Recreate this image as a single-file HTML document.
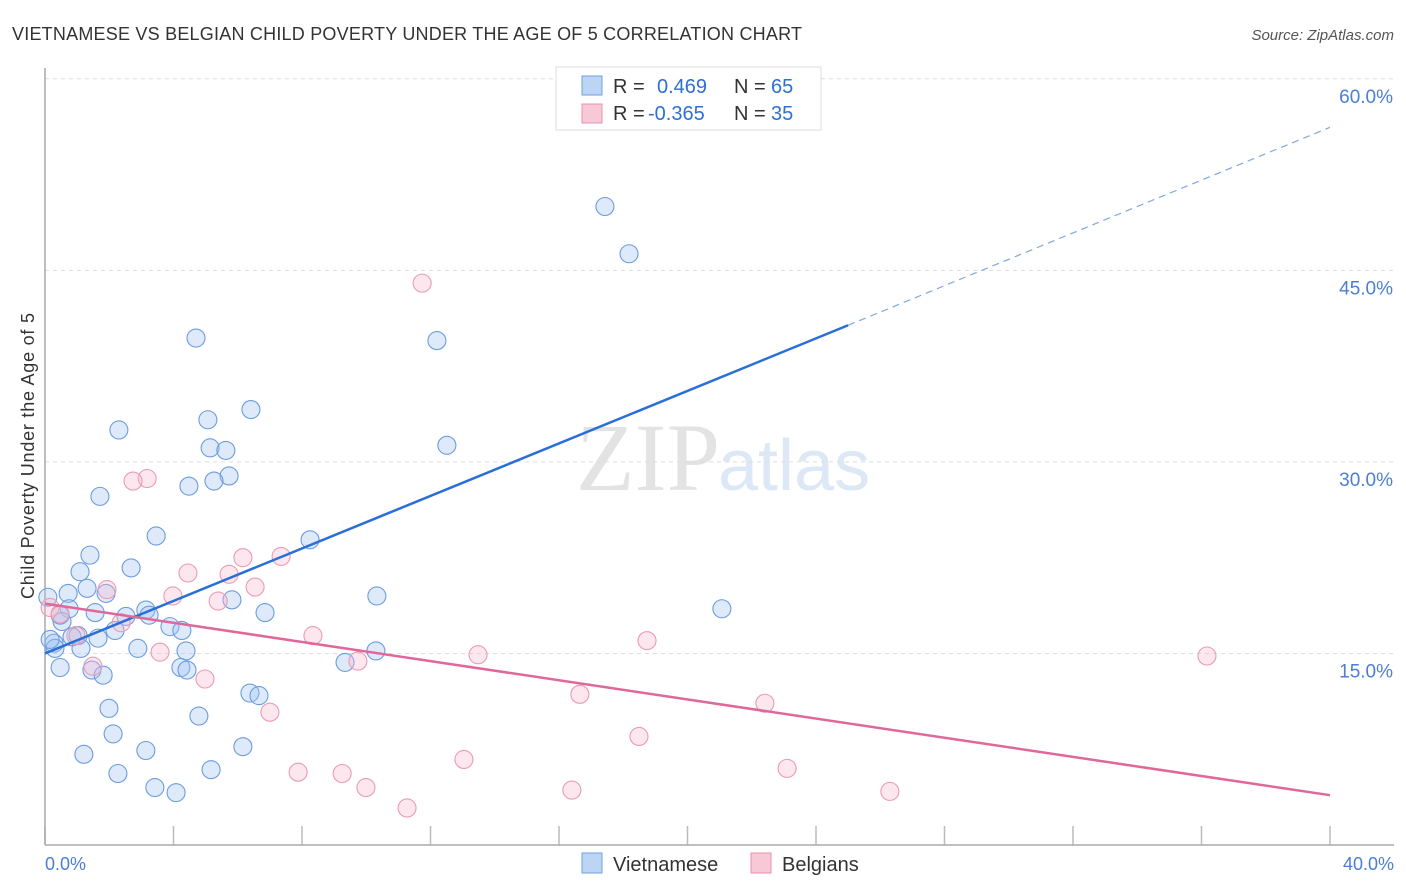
<!DOCTYPE html>
<html><head><meta charset="utf-8"><style>
body{margin:0;background:#fff;font-family:"Liberation Sans",sans-serif;}
svg{display:block}
</style></head><body>
<svg width="1406" height="892" viewBox="0 0 1406 892" id="c">
<text x="12" y="40" font-size="18" fill="#333" textLength="790">VIETNAMESE VS BELGIAN CHILD POVERTY UNDER THE AGE OF 5 CORRELATION CHART</text>
<text x="1394" y="40" font-size="15" fill="#555" font-style="italic" text-anchor="end">Source: ZipAtlas.com</text>
<text x="720" y="490" font-size="96" fill="#e3e3e3" text-anchor="end" font-family="Liberation Serif">ZIP</text>
<text x="718" y="490" font-size="72" fill="#dce8f6">atlas</text>
<g id="grid"></g>
<line x1="45" y1="68" x2="45" y2="845" stroke="#aaa" stroke-width="1.5"/>
<line x1="45" y1="845" x2="1394" y2="845" stroke="#aaa" stroke-width="1.5"/>
<text transform="translate(34,456) rotate(-90)" font-size="18" fill="#333" text-anchor="middle" textLength="286">Child Poverty Under the Age of 5</text>
<text x="45" y="870" font-size="18" fill="#4a7fd4">0.0%</text>
<text x="1394" y="870" font-size="18" fill="#4a7fd4" text-anchor="end">40.0%</text>
<g id="pts"></g>
<g id="lines"></g>
<g>
<rect x="556" y="67" width="265" height="63" fill="#fff" stroke="#ddd"/>
<rect x="582" y="76" width="20" height="19" fill="#bcd5f5" stroke="#6fa0e0"/>
<rect x="582" y="104" width="20" height="19" fill="#f8c8d6" stroke="#e890aa"/>
<text y="93" font-size="20" fill="#333"><tspan x="613">R =</tspan><tspan x="657" fill="#2d6fd6">0.469</tspan><tspan x="734">N =</tspan><tspan x="771" fill="#2d6fd6">65</tspan></text>
<text y="120" font-size="20" fill="#333"><tspan x="613">R =</tspan><tspan x="648" fill="#2d6fd6">-0.365</tspan><tspan x="734">N =</tspan><tspan x="771" fill="#2d6fd6">35</tspan></text>
</g>
<g>
<rect x="582" y="853" width="20" height="20" fill="#bcd5f5" stroke="#6fa0e0"/>
<text x="613" y="871" font-size="20" fill="#333">Vietnamese</text>
<rect x="751" y="853" width="20" height="20" fill="#f8c8d6" stroke="#e890aa"/>
<text x="782" y="871" font-size="20" fill="#333">Belgians</text>
</g>
</svg>
<script>
const yTicks=[15,30,45,60];
const yTickLabels=["15.0%","30.0%","45.0%","60.0%"];
const xTicks=[0,4,8,12,16,20,24,28,32,36,40];
const blueX=[17.43,18.18,4.70,12.20,6.41,2.30,5.07,12.51,5.14,5.63,5.73,5.26,4.48,1.71,3.46,8.25,1.40,2.68,1.09,0.72,1.31,0.09,1.90,10.33,5.82,0.75,1.56,6.85,21.07,3.14,3.24,2.52,0.53,0.47,3.89,4.26,2.18,1.03,1.65,0.84,0.28,0.31,1.12,2.89,4.39,10.30,9.34,4.23,4.42,1.46,0.47,1.81,6.38,6.66,1.99,4.79,2.12,6.16,1.21,3.14,5.17,2.27,3.42,4.08,0.16];
const blueY=[50.0,46.3,39.7,39.5,34.1,32.5,33.3,31.3,31.1,30.9,28.9,28.5,28.1,27.3,24.2,23.9,22.7,21.7,21.4,19.7,20.1,19.4,19.7,19.5,19.2,18.5,18.2,18.2,18.5,18.4,18.0,17.9,17.5,18.0,17.1,16.8,16.8,16.4,16.2,16.3,15.8,15.4,15.4,15.4,15.2,15.2,14.3,13.9,13.7,13.7,13.9,13.3,11.9,11.7,10.7,10.1,8.7,7.7,7.1,7.4,5.9,5.6,4.5,4.1,16.1];
const pinkX=[11.74,3.18,2.74,6.16,7.35,4.45,6.54,5.73,1.93,3.98,5.39,0.16,0.47,0.96,2.37,8.34,18.74,3.58,13.48,9.74,1.49,4.98,16.65,22.41,7.00,18.49,13.04,7.88,9.25,23.10,9.99,16.40,26.30,11.27,36.17];
const pinkY=[44.0,28.7,28.5,22.5,22.6,21.3,20.2,21.2,20.0,19.5,19.1,18.6,18.1,16.4,17.4,16.4,16.0,15.1,14.9,14.4,14.0,13.0,11.8,11.1,10.4,8.5,6.7,5.7,5.6,6.0,4.5,4.3,4.2,2.9,14.8];
const blueTrend=[[0,15.0],[25,40.7]];
const blueTrendExt=[[25,40.7],[40,56.2]];
const pinkTrend=[[0,18.9],[40,3.9]];
const NS="http://www.w3.org/2000/svg";
const X=v=>45+v*32.125, Y=v=>845-v*12.77;
function mk(t,a,p){const e=document.createElementNS(NS,t);for(const k in a)e.setAttribute(k,a[k]);p.appendChild(e);return e;}
const grid=document.getElementById('grid');
yTicks.forEach((t,i)=>{
 const l=mk('line',{x1:45,x2:1394,y1:Y(t),y2:Y(t),stroke:'#ddd','stroke-dasharray':'4,4'},grid);
 
 
 const tx=mk('text',{x:1393,y:Y(t)+24,'font-size':19,fill:'#4a7fd4','text-anchor':'end'},grid);
 tx.textContent=yTickLabels[i];
 
 
});
xTicks.forEach(t=>{
 const l=mk('line',{x1:X(t),x2:X(t),y1:826,y2:845,stroke:'#bbb','stroke-width':1.5},grid);
 
 
});
const pts=document.getElementById('pts');
blueX.forEach((v,i)=>{
 const c=mk('circle',{cx:X(v),cy:Y(blueY[i]),r:9,fill:'rgba(160,196,240,0.35)',stroke:'#6a9ce0','stroke-width':1.1},pts);
 
 
});
pinkX.forEach((v,i)=>{
 const c=mk('circle',{cx:X(v),cy:Y(pinkY[i]),r:9,fill:'rgba(246,185,205,0.35)',stroke:'#eb9ab4','stroke-width':1.1},pts);
 
 
});
const lg=document.getElementById('lines');
let l=mk('line',{x1:X(blueTrend[0][0]),y1:Y(blueTrend[0][1]),x2:X(blueTrend[1][0]),y2:Y(blueTrend[1][1]),stroke:'#2a6fd8','stroke-width':2.5},lg);


l=mk('line',{x1:X(blueTrendExt[0][0]),y1:Y(blueTrendExt[0][1]),x2:X(blueTrendExt[1][0]),y2:Y(blueTrendExt[1][1]),stroke:'#7fa8e0','stroke-width':1.2,'stroke-dasharray':'7,5'},lg);


l=mk('line',{x1:X(pinkTrend[0][0]),y1:Y(pinkTrend[0][1]),x2:X(pinkTrend[1][0]),y2:Y(pinkTrend[1][1]),stroke:'#e0679a','stroke-width':2.5},lg);


</script>
</body></html>
